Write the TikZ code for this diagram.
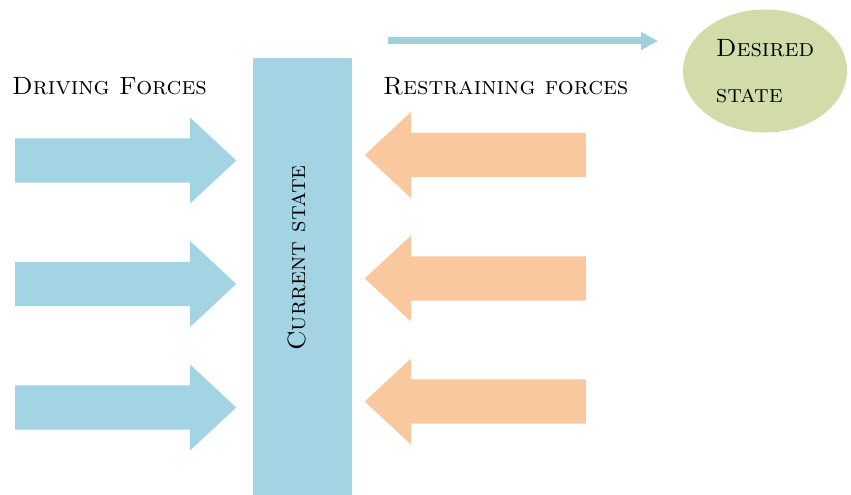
\documentclass[tikz,border=0pt]{standalone}
\usepackage{fontspec}
\usetikzlibrary{shapes.arrows, shapes.geometric, arrows.meta, positioning}

\definecolor{barblue}{RGB}{163,212,227}
\definecolor{pushorange}{RGB}{250,200,158}
\definecolor{goalgreen}{RGB}{209,220,168}
\definecolor{goalline}{RGB}{160,208,218}

\begin{document}
\begin{tikzpicture}[x=1pt, y=-1pt,
        force/.style={single arrow, minimum height=221pt, anchor=tail,
            single arrow head extend=21pt, single arrow head indent=0pt,
            single arrow tip angle=86, inner xsep=0pt, inner ysep=22pt},
        drive/.style={force, fill=barblue},
        restrain/.style={force, fill=pushorange, shape border rotate=180},
        caption/.style={font=\fontsize{25}{30}\selectfont\scshape, text=black, inner sep=0pt}]
        \useasboundingbox (0,0) rectangle (851,495);

        % Current state bar
        \node[fill=barblue, minimum width=99pt, minimum height=437pt, inner sep=0pt,
            anchor=north west] (bar) at (253,58) {};
        \node[caption, rotate=90, anchor=base] (current) at (305,258) {Current state};

        % Driving forces
        \node[caption, anchor=base west] (driving) at (12,95) {Driving Forces};
        \node[drive] (d1) at (15,160.5) {};
        \node[drive] (d2) at (15,284) {};
        \node[drive] (d3) at (15,407.5) {};

        % Restraining forces
        \node[caption, anchor=base west] (restraining) at (383,95) {Restraining forces};
        \node[restrain] (r1) at (586,155) {};
        \node[restrain] (r2) at (586,278.5) {};
        \node[restrain] (r3) at (586,401.5) {};

        % Desired state
        \node[ellipse, fill=goalgreen, minimum width=164pt, minimum height=123pt,
            caption, align=left] (desired) at (765,71) {Desired\\[16pt]state};
        \coordinate (push) at (388,41);
        \coordinate (reach) at (658,41);
        \draw[goalline, line width=7pt, -{Triangle[width=17pt, length=17pt]}] (push) -- (reach);
    \end{tikzpicture}
\end{document}
